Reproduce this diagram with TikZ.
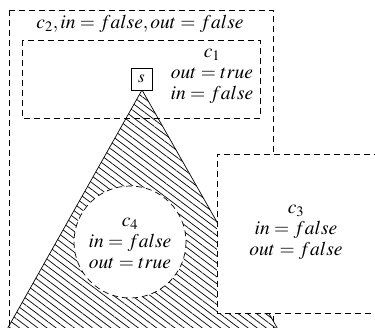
\documentclass[tikz,border=0pt]{standalone}
\usepackage{mathptmx}
\usetikzlibrary{patterns.meta}
\tikzset{
  region/.style={draw, line width=0.7pt, dash pattern=on 6pt off 4pt},
  lbl/.style={align=center, font=\fontsize{19.5}{21}\selectfont, inner sep=0pt},
  srcbox/.style={draw, line width=0.7pt, minimum width=21pt, minimum height=22pt, inner sep=0pt, fill=white, font=\fontsize{17}{18}\selectfont}
}
\begin{document}
\begin{tikzpicture}[x=1pt,y=-1pt]
\useasboundingbox (0,0) rectangle (375,327);
\begin{scope}
\clip (0,0) rectangle (375,327);
\draw[region] (9,10) -- (273,10) -- (273,345) (9,10) -- (9,345);
\draw[region] (22,40) rectangle (260,118);
\draw[line width=0.7pt, pattern={Lines[angle=-37, distance=5.5pt, line width=0.7pt]}]
  (142,90) -- (1,340) -- (284,340) -- cycle;
\draw[region, fill=white] (130,242) circle[radius=56];
\fill[white] (217,154) rectangle (380,313);
\draw[region] (380,154) -- (217,154) -- (217,313) -- (380,313);
\end{scope}
\node[srcbox] (s) at (141.5,79) {$s$};
\node[lbl] (c2) at (140,24) {$c_2, in = false, out = false$};
\node[lbl] (c1) at (212,76) {$c_1$\\$out = true$\\$in = false$};
\node[lbl] (c3) at (296,232) {$c_3$\\$in = false$\\$out = false$};
\node[lbl] (c4) at (130,243) {$c_4$\\$in = false$\\$out = true$};
\end{tikzpicture}
\end{document}
